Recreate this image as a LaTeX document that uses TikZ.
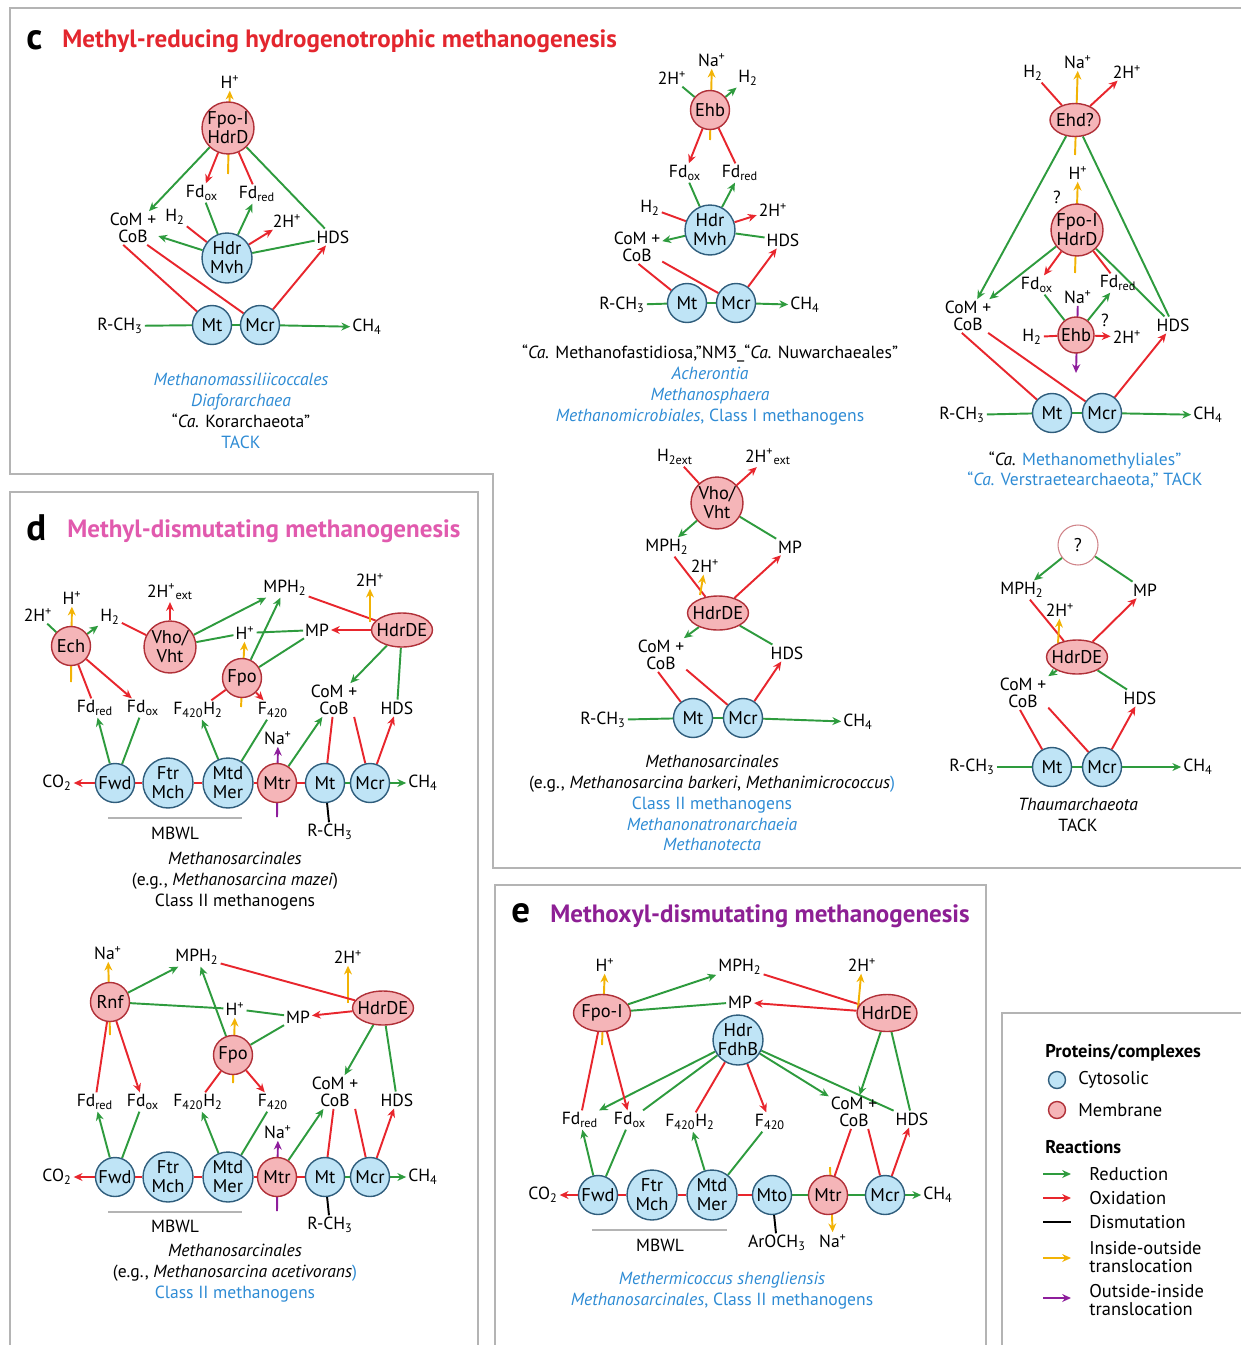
\documentclass[tikz,border=0pt]{standalone}
\usepackage{fontspec}
\setmainfont{PT Sans}
\usetikzlibrary{arrows.meta,shapes.geometric}
\pgfdeclarelayer{bg}
\pgfsetlayers{bg,main}

\definecolor{cytfill}{HTML}{BFE4F6}
\definecolor{cytline}{HTML}{2F5D7C}
\definecolor{memfill}{HTML}{F5B5B8}
\definecolor{memline}{HTML}{B03038}
\definecolor{grn}{HTML}{2E9B3E}
\definecolor{rd}{HTML}{E8262D}
\definecolor{yel}{HTML}{F2B305}
\definecolor{pur}{HTML}{8E1E9C}
\definecolor{txtblue}{HTML}{2E8BD4}
\definecolor{titlec}{HTML}{E3262E}
\definecolor{titled}{HTML}{E15AAE}
\definecolor{titlee}{HTML}{8D1F94}
\definecolor{framegray}{HTML}{B4B4B4}

\newcommand{\zw}[1]{\makebox[0pt]{#1}}
\newcommand{\Hp}{H\textsuperscript{+}}
\newcommand{\twoHp}{2H\textsuperscript{+}}
\newcommand{\Nap}{Na\textsuperscript{+}}
\newcommand{\Htwo}{H\textsubscript{2}}
\newcommand{\Fdox}{Fd\textsubscript{ox}}
\newcommand{\Fdred}{Fd\textsubscript{red}}
\newcommand{\MPHtwo}{MPH\textsubscript{2}}
\newcommand{\RCH}{R-CH\textsubscript{3}}
\newcommand{\CHf}{CH\textsubscript{4}}
\newcommand{\COt}{CO\textsubscript{2}}
\newcommand{\Ffz}{F\textsubscript{420}}
\newcommand{\FfzH}{F\textsubscript{420}H\textsubscript{2}}
\newcommand{\blu}[1]{\textcolor{txtblue}{#1}}

\tikzset{
  cyt/.style={circle, draw=cytline, fill=cytfill, line width=0.8pt, inner sep=0pt,
    minimum size=0.78cm, align=center, font=\fontsize{10.5}{10.8}\selectfont},
  cytbig/.style={cyt, minimum size=1cm},
  mem/.style={cyt, draw=memline, fill=memfill},
  membig/.style={mem, minimum size=1.04cm},
  memov/.style={mem, ellipse, minimum width=1.22cm, minimum height=0.68cm},
  lbl/.style={inner sep=1pt, align=center, font=\fontsize{10}{9.6}\selectfont},
  taxa/.style={align=center, font=\fontsize{10}{11.9}\selectfont},
  ttl/.style={anchor=west, inner sep=0pt, font=\fontsize{14.25}{15}\selectfont\bfseries},
  leg/.style={anchor=west, inner sep=0pt, align=left, font=\fontsize{10.5}{10.5}\selectfont},
  redn/.style={draw=grn, line width=1.1pt},
  oxid/.style={draw=rd, line width=1.1pt},
  dism/.style={draw=black, line width=1.1pt},
  inout/.style={draw=yel, line width=1.1pt},
  outin/.style={draw=pur, line width=1.1pt},
  frame/.style={draw=framegray, line width=1pt},
}

\begin{document}
\begin{tikzpicture}[x=0.02cm, y=-0.02cm, >={Stealth[length=5pt,width=4.5pt]}]
  \useasboundingbox (0,0) rectangle (1241,1345);
  % Frames
  \draw[frame] (1241,8) -- (10,8) -- (10,474) -- (493,474) -- (493,868) -- (1241,868);
  \draw[frame] (10,1345) -- (10,492) -- (478,492) -- (478,1345);
  \draw[frame] (495,1345) -- (495,885) -- (986,885) -- (986,1345);
  \draw[frame] (1002,1345) -- (1002,1013) -- (1241,1013);

  % Titles
  \node (tc) [ttl, font=\fontsize{21}{21}\selectfont\bfseries] at (26,40) {c};
  \node (tctext) [ttl, text=titlec] at (62,41) {Methyl-reducing hydrogenotrophic methanogenesis};
  \node (td) [ttl, font=\fontsize{21}{21}\selectfont\bfseries] at (26,528) {d};
  \node (tdtext) [ttl, text=titled] at (67,531) {Methyl-dismutating methanogenesis};
  \node (te) [ttl, font=\fontsize{21}{21}\selectfont\bfseries] at (511,913) {e};
  \node (tetext) [ttl, text=titlee] at (550,916) {Methoxyl-dismutating methanogenesis};

  % ---- Panel c, left ----
  \node (c1fpo) [membig] at (228,128) {\zw{Fpo-I}\\\zw{HdrD}};
  \node (c1hp) [lbl] at (230,82) {\Hp};
  \node (c1fdox) [lbl] at (202,193) {\Fdox};
  \node (c1fdred) [lbl] at (257,194) {\Fdred};
  \node (c1com) [lbl] at (133,228) {CoM +\\CoB};
  \node (c1htwo) [lbl] at (175,217) {\Htwo};
  \node (c1twohp) [lbl] at (287,221) {\twoHp};
  \node (c1hds) [lbl] at (333,237) {HDS};
  \node (c1hdr) [cytbig] at (227,258) {Hdr\\Mvh};
  \node (c1mt) [cyt] at (212,325) {Mt};
  \node (c1mcr) [cyt] at (260,325) {Mcr};
  \node (c1rch) [lbl] at (120,326) {\RCH};
  \node (c1ch) [lbl] at (367,327) {\CHf};
  \coordinate (c1yin) at (228,174);
  \node (c1tax) [taxa] at (241,411) {\blu{\textit{Methanomassiliicoccales}}\\
    \blu{\textit{Diaforarchaea}}\\“\textit{Ca.} Korarchaeota”\\\blu{TACK}};
  \begin{pgfonlayer}{bg}
    \draw[inout,->] (c1yin) -- (c1hp);
    \draw[redn,->] (c1fpo) -- (c1com);
    \draw[oxid,->] (c1fpo) -- (c1fdox);
    \draw[oxid] (c1fdred) -- (c1fpo);
    \draw[redn] (c1hds) -- (c1fpo);
    \draw[oxid] (c1htwo) -- (c1hdr);
    \draw[redn] (c1fdox) -- (c1hdr);
    \draw[redn,->] (c1hdr) -- (c1fdred);
    \draw[oxid,->] (c1hdr) -- (c1twohp);
    \draw[redn,->] (c1hdr) -- (c1com);
    \draw[redn] (c1hds) -- (c1hdr);
    \draw[oxid] (c1com.-120) -- (c1mt);
    \draw[oxid] (c1com.-50) -- (c1mcr);
    \draw[oxid,->] (c1mcr) -- (c1hds);
    \draw[redn] (c1rch) -- (c1mt);
    \draw[redn] (c1mt) -- (c1mcr);
    \draw[redn,->] (c1mcr) -- (c1ch);
  \end{pgfonlayer}

  % ---- Panel c, middle top ----
  \node (c2ehb) [mem] at (710,110) {Ehb};
  \node (c2nap) [lbl] at (712,60) {\Nap};
  \node (c2twohp) [lbl] at (672,78) {\twoHp};
  \node (c2htwo) [lbl] at (748,78) {\Htwo};
  \node (c2fdox) [lbl] at (685,173) {\Fdox};
  \node (c2fdred) [lbl] at (740,173) {\Fdred};
  \node (c2hdr) [cytbig] at (710,230) {Hdr\\Mvh};
  \node (c2htwob) [lbl] at (650,208) {\Htwo};
  \node (c2twohpb) [lbl] at (773,210) {\twoHp};
  \node (c2com) [lbl] at (637,247) {CoM +\\CoB};
  \node (c2hds) [lbl] at (783,240) {HDS};
  \node (c2mt) [cyt] at (687,303) {Mt};
  \node (c2mcr) [cyt] at (736,303) {Mcr};
  \node (c2rch) [lbl] at (622,305) {\RCH};
  \node (c2ch) [lbl] at (805,305) {\CHf};
  \coordinate (c2yin) at (710,140);
  \node (c2tax) [taxa] at (710,385) {“\textit{Ca.} Methanofastidiosa,”NM3\_“\textit{Ca.} Nuwarchaeales”\\
    \blu{\textit{Acherontia}}\\\blu{\textit{Methanosphaera}}\\
    \blu{\textit{Methanomicrobiales}, Class I methanogens}};
  \begin{pgfonlayer}{bg}
    \draw[inout,->] (c2yin) -- (c2nap);
    \draw[redn] (c2twohp) -- (c2ehb);
    \draw[redn,->] (c2ehb) -- (c2htwo);
    \draw[oxid,->] (c2ehb) -- (c2fdox);
    \draw[oxid] (c2fdred) -- (c2ehb);
    \draw[redn] (c2fdox) -- (c2hdr);
    \draw[redn,->] (c2hdr) -- (c2fdred);
    \draw[oxid] (c2htwob) -- (c2hdr);
    \draw[oxid,->] (c2hdr) -- (c2twohpb);
    \draw[redn,->] (c2hdr) -- (c2com);
    \draw[redn] (c2hds) -- (c2hdr);
    \draw[oxid] (c2com.-85) -- (c2mt);
    \draw[oxid] (c2com.-30) -- (c2mcr);
    \draw[oxid,->] (c2mcr) -- (c2hds);
    \draw[redn] (c2rch) -- (c2mt);
    \draw[redn] (c2mt) -- (c2mcr);
    \draw[redn,->] (c2mcr) -- (c2ch);
  \end{pgfonlayer}

  % ---- Panel c, right top ----
  \node (c3ehd) [memov, minimum width=1cm, minimum height=0.66cm] at (1075,120) {\zw{Ehd?}};
  \node (c3nap) [lbl] at (1078,62) {\Nap};
  \node (c3htwo) [lbl] at (1033,73) {\Htwo};
  \node (c3twohp) [lbl] at (1127,72) {\twoHp};
  \node (c3hp) [lbl] at (1078,173) {\Hp};
  \node (c3qa) [lbl] at (1057,197) {?};
  \node (c3fpo) [membig] at (1077,230) {\zw{Fpo-I}\\\zw{HdrD}};
  \node (c3fdox) [lbl] at (1037,285) {\Fdox};
  \node (c3fdred) [lbl] at (1118,283) {\Fdred};
  \node (c3nap2) [lbl] at (1078,297) {\Nap};
  \node (c3qb) [lbl] at (1105,320) {?};
  \node (c3ehb) [mem, minimum size=0.72cm] at (1076,335) {\zw{Ehb}};
  \node (c3htwob) [lbl] at (1032,337) {\Htwo};
  \node (c3twohpb) [lbl] at (1127,337) {\twoHp};
  \node (c3com) [lbl] at (968,316) {CoM +\\CoB};
  \node (c3hds) [lbl] at (1173,325) {HDS};
  \node (c3mt) [cyt] at (1052,413) {Mt};
  \node (c3mcr) [cyt] at (1102,413) {Mcr};
  \node (c3rch) [lbl] at (962,415) {\RCH};
  \node (c3ch) [lbl] at (1208,415) {\CHf};
  \coordinate (c3ya) at (1075,155);
  \coordinate (c3yb) at (1075,273);
  \coordinate (c3pend) at (1076,373);
  \node (c3tax) [taxa] at (1085,470) {“\textit{Ca.} \blu{Methanomethyliales”}\\
    \blu{“\textit{Ca.} Verstraetearchaeota,” TACK}};
  \begin{pgfonlayer}{bg}
    \draw[inout,->] (c3ya) -- (c3nap);
    \draw[inout,->] (c3yb) -- (c3hp);
    \draw[oxid] (c3htwo) -- (c3ehd);
    \draw[oxid,->] (c3ehd) -- (c3twohp);
    \draw[redn,->] (c3ehd) -- (c3com);
    \draw[redn] (c3hds) -- (c3ehd);
    \draw[redn,->] (c3fpo) -- (c3com);
    \draw[oxid,->] (c3fpo) -- (c3fdox);
    \draw[oxid] (c3fdred) -- (c3fpo);
    \draw[redn] (c3hds) -- (c3fpo);
    \draw[outin,->] (c3nap2) -- (c3pend);
    \draw[redn] (c3fdox) -- (c3ehb);
    \draw[redn,->] (c3ehb) -- (c3fdred);
    \draw[oxid] (c3htwob) -- (c3ehb);
    \draw[oxid,->] (c3ehb) -- (c3twohpb);
    \draw[oxid] (c3com.-110) -- (c3mt);
    \draw[oxid] (c3com.-40) -- (c3mcr);
    \draw[oxid,->] (c3mcr) -- (c3hds);
    \draw[redn] (c3rch) -- (c3mt);
    \draw[redn] (c3mt) -- (c3mcr);
    \draw[redn,->] (c3mcr) -- (c3ch);
  \end{pgfonlayer}

  % ---- Panel c, middle bottom ----
  \node (c4vho) [membig] at (717,503) {\zw{Vho/}\\\zw{Vht}};
  \node (c4htwo) [lbl] at (675,457) {H\textsubscript{2ext}};
  \node (c4twohp) [lbl] at (768,457) {2H\textsuperscript{+}\textsubscript{ext}};
  \node (c4mph) [lbl] at (667,547) {\MPHtwo};
  \node (c4mp) [lbl] at (790,547) {MP};
  \node (c4twohpb) [lbl] at (705,566) {\twoHp};
  \node (c4hdr) [memov] at (718,613) {\zw{HdrDE}};
  \node (c4com) [lbl] at (661,655) {CoM +\\CoB};
  \node (c4hds) [lbl] at (787,653) {HDS};
  \node (c4mt) [cyt] at (693,718) {Mt};
  \node (c4mcr) [cyt] at (743,718) {Mcr};
  \node (c4rch) [lbl] at (603,720) {\RCH};
  \node (c4ch) [lbl] at (858,722) {\CHf};
  \coordinate (c4yin) at (700,595);
  \node (c4tax) [taxa] at (712,803) {\textit{Methanosarcinales}\\
    (e.g., \textit{Methanosarcina barkeri}, \textit{Methanimicrococcus}\blu{)}\\
    \blu{Class II methanogens}\\\blu{\textit{Methanonatronarchaeia}}\\\blu{\textit{Methanotecta}}};
  \begin{pgfonlayer}{bg}
    \draw[oxid] (c4htwo) -- (c4vho);
    \draw[oxid,->] (c4vho) -- (c4twohp);
    \draw[redn,->] (c4vho) -- (c4mph);
    \draw[redn] (c4mp) -- (c4vho);
    \draw[oxid] (c4mph) -- (c4hdr);
    \draw[oxid,->] (c4hdr) -- (c4mp);
    \draw[inout,->] (c4yin) -- (c4twohpb);
    \draw[redn,->] (c4hdr) -- (c4com);
    \draw[redn] (c4hds) -- (c4hdr);
    \draw[oxid] (c4com.-100) -- (c4mt);
    \draw[oxid] (c4com.-30) -- (c4mcr);
    \draw[oxid,->] (c4mcr) -- (c4hds);
    \draw[redn] (c4rch) -- (c4mt);
    \draw[redn] (c4mt) -- (c4mcr);
    \draw[redn,->] (c4mcr) -- (c4ch);
  \end{pgfonlayer}

  % ---- Panel c, right bottom ----
  \node (c5q) [circle, draw=memline!60, fill=white, line width=0.6pt, minimum size=0.8cm,
    font=\fontsize{10.5}{10.5}\selectfont] at (1078,545) {?};
  \node (c5mph) [lbl] at (1022,590) {\MPHtwo};
  \node (c5mp) [lbl] at (1145,590) {MP};
  \node (c5twohp) [lbl] at (1060,610) {\twoHp};
  \node (c5hdr) [memov] at (1077,657) {\zw{HdrDE}};
  \node (c5com) [lbl] at (1023,693) {CoM +\\CoB};
  \node (c5hds) [lbl] at (1140,698) {HDS};
  \node (c5mt) [cyt] at (1052,767) {Mt};
  \node (c5mcr) [cyt] at (1102,767) {Mcr};
  \node (c5rch) [lbl] at (972,767) {\RCH};
  \node (c5ch) [lbl] at (1198,767) {\CHf};
  \coordinate (c5yin) at (1058,643);
  \node (c5tax) [taxa] at (1078,815) {\textit{Thaumarchaeota}\\TACK};
  \begin{pgfonlayer}{bg}
    \draw[redn,->] (c5q) -- (c5mph);
    \draw[redn] (c5mp) -- (c5q);
    \draw[oxid] (c5mph) -- (c5hdr);
    \draw[oxid,->] (c5hdr) -- (c5mp);
    \draw[inout,->] (c5yin) -- (c5twohp);
    \draw[redn,->] (c5hdr) -- (c5com);
    \draw[redn] (c5hds) -- (c5hdr);
    \draw[oxid] (c5com.-100) -- (c5mt);
    \draw[oxid] (c5com.-30) -- (c5mcr);
    \draw[oxid,->] (c5mcr) -- (c5hds);
    \draw[redn] (c5rch) -- (c5mt);
    \draw[redn] (c5mt) -- (c5mcr);
    \draw[redn,->] (c5mcr) -- (c5ch);
  \end{pgfonlayer}

  % ---- Panel d, upper ----
  \node (d1ech) [mem] at (71,646) {Ech};
  \node (d1twohp) [lbl] at (38,615) {\twoHp};
  \node (d1hp) [lbl] at (72,598) {\Hp};
  \node (d1htwo) [lbl] at (110,617) {\Htwo};
  \node (d1fdred) [lbl] at (95,708) {\Fdred};
  \node (d1fdox) [lbl] at (143,708) {\Fdox};
  \node (d1vho) [membig] at (170,647) {\zw{Vho/}\\\zw{Vht}};
  \node (d1twohpx) [lbl] at (170,592) {2H\textsuperscript{+}\textsubscript{ext}};
  \node (d1mph) [lbl] at (285,588) {\MPHtwo};
  \node (d1twohpb) [lbl] at (370,580) {\twoHp};
  \node (d1hdr) [memov] at (402,630) {\zw{HdrDE}};
  \node (d1mp) [lbl] at (317,630) {MP};
  \node (d1hpb) [lbl] at (245,633) {\Hp};
  \node (d1fpo) [mem] at (242,678) {Fpo};
  \node (d1ffh) [lbl] at (198,710) {\FfzH};
  \node (d1ff) [lbl] at (273,710) {\Ffz};
  \node (d1com) [lbl] at (334,700) {CoM +\\CoB};
  \node (d1hds) [lbl] at (397,708) {HDS};
  \node (d1co) [lbl] at (57,783) {\COt};
  \node (d1fwd) [cyt] at (115,783) {\zw{Fwd}};
  \node (d1ftr) [cytbig] at (168,783) {\zw{Ftr}\\\zw{Mch}};
  \node (d1mtd) [cytbig] at (228,783) {\zw{Mtd}\\\zw{Mer}};
  \node (d1mtr) [mem] at (277,783) {Mtr};
  \node (d1mt) [cyt] at (325,783) {Mt};
  \node (d1mcr) [cyt] at (370,783) {Mcr};
  \node (d1ch) [lbl] at (423,783) {\CHf};
  \node (d1nap) [lbl] at (278,738) {\Nap};
  \node (d1rch) [lbl] at (330,832) {\RCH};
  \node (d1mbwl) [lbl] at (175,833) {MBWL};
  \coordinate (d1ya) at (71,682);
  \coordinate (d1yb) at (370,622);
  \coordinate (d1yc) at (241,707);
  \coordinate (d1pa) at (277,817);
  \node (d1tax) [taxa] at (235,881) {\textit{Methanosarcinales}\\
    (e.g., \textit{Methanosarcina mazei})\\Class II methanogens};
  \draw[framegray, line width=0.8pt] (108,818) -- (242,818);
  \begin{pgfonlayer}{bg}
    \draw[inout,->] (d1ya) -- (d1hp);
    \draw[redn] (d1twohp) -- (d1ech);
    \draw[redn,->] (d1ech) -- (d1htwo);
    \draw[oxid] (d1fdred) -- (d1ech);
    \draw[oxid,->] (d1ech) -- (d1fdox);
    \draw[oxid,->] (d1vho) -- (d1twohpx);
    \draw[oxid] (d1htwo) -- (d1vho);
    \draw[redn,->] (d1vho) -- (d1mph);
    \draw[redn] (d1vho) -- (d1hpb);
    \draw[redn] (d1hpb) -- (d1mp);
    \draw[oxid] (d1mph) -- (d1hdr);
    \draw[oxid,->] (d1hdr) -- (d1mp);
    \draw[inout,->] (d1yb) -- (d1twohpb);
    \draw[inout,->] (d1yc) -- (d1hpb);
    \draw[redn,->] (d1fpo) -- (d1mph);
    \draw[redn] (d1mp) -- (d1fpo);
    \draw[oxid] (d1ffh) -- (d1fpo);
    \draw[oxid,->] (d1fpo) -- (d1ff);
    \draw[redn,->] (d1hdr) -- (d1com);
    \draw[redn] (d1hds) -- (d1hdr);
    \draw[oxid,->] (d1fwd) -- (d1co);
    \draw[oxid] (d1fwd) -- (d1ftr);
    \draw[oxid] (d1ftr) -- (d1mtd);
    \draw[oxid] (d1mtd) -- (d1mtr);
    \draw[oxid] (d1mtr) -- (d1mt);
    \draw[redn] (d1mt) -- (d1mcr);
    \draw[redn,->] (d1mcr) -- (d1ch);
    \draw[outin,->] (d1pa) -- (d1nap);
    \draw[redn,->] (d1fwd) -- (d1fdred);
    \draw[redn] (d1fdox) -- (d1fwd);
    \draw[redn,->] (d1mtd) -- (d1ffh);
    \draw[redn] (d1ff) -- (d1mtd);
    \draw[redn,->] (d1mtr) -- (d1com);
    \draw[oxid] (d1com.-95) -- (d1mt);
    \draw[oxid] (d1com.-40) -- (d1mcr);
    \draw[oxid,->] (d1mcr) -- (d1hds);
    \draw[dism] (d1mt) -- (d1rch);
  \end{pgfonlayer}

  % ---- Panel d, lower ----
  \node (d2rnf) [mem] at (110,1002) {Rnf};
  \node (d2nap) [lbl] at (108,953) {\Nap};
  \node (d2mph) [lbl] at (197,957) {\MPHtwo};
  \node (d2twohp) [lbl] at (348,957) {\twoHp};
  \node (d2hp) [lbl] at (235,1009) {\Hp};
  \node (d2mp) [lbl] at (298,1017) {MP};
  \node (d2hdr) [memov] at (383,1008) {\zw{HdrDE}};
  \node (d2fpo) [mem] at (233,1055) {Fpo};
  \node (d2fdred) [lbl] at (95,1102) {\Fdred};
  \node (d2fdox) [lbl] at (143,1102) {\Fdox};
  \node (d2ffh) [lbl] at (198,1102) {\FfzH};
  \node (d2ff) [lbl] at (273,1102) {\Ffz};
  \node (d2com) [lbl] at (335,1092) {CoM +\\CoB};
  \node (d2hds) [lbl] at (397,1100) {HDS};
  \node (d2co) [lbl] at (57,1177) {\COt};
  \node (d2fwd) [cyt] at (115,1177) {\zw{Fwd}};
  \node (d2ftr) [cytbig] at (168,1177) {\zw{Ftr}\\\zw{Mch}};
  \node (d2mtd) [cytbig] at (228,1177) {\zw{Mtd}\\\zw{Mer}};
  \node (d2mtr) [mem] at (277,1177) {Mtr};
  \node (d2mt) [cyt] at (325,1177) {Mt};
  \node (d2mcr) [cyt] at (370,1177) {Mcr};
  \node (d2ch) [lbl] at (423,1177) {\CHf};
  \node (d2nap2) [lbl] at (278,1132) {\Nap};
  \node (d2rch) [lbl] at (330,1225) {\RCH};
  \node (d2mbwl) [lbl] at (175,1226) {MBWL};
  \coordinate (d2ya) at (110,1035);
  \coordinate (d2yb) at (233,1083);
  \coordinate (d2yc) at (348,1003);
  \coordinate (d2pa) at (277,1211);
  \node (d2tax) [taxa] at (235,1273) {\textit{Methanosarcinales}\\
    (e.g., \textit{Methanosarcina acetivorans}\blu{)}\\\blu{Class II methanogens}};
  \draw[framegray, line width=0.8pt] (108,1212) -- (242,1212);
  \begin{pgfonlayer}{bg}
    \draw[inout,->] (d2ya) -- (d2nap);
    \draw[redn,->] (d2rnf) -- (d2mph);
    \draw[redn] (d2rnf) -- (d2hp);
    \draw[redn] (d2hp) -- (d2mp);
    \draw[inout,->] (d2yb) -- (d2hp);
    \draw[inout,->] (d2yc) -- (d2twohp);
    \draw[oxid] (d2mph) -- (d2hdr);
    \draw[oxid,->] (d2hdr) -- (d2mp);
    \draw[redn,->] (d2fpo) -- (d2mph);
    \draw[redn] (d2mp) -- (d2fpo);
    \draw[oxid] (d2ffh) -- (d2fpo);
    \draw[oxid,->] (d2fpo) -- (d2ff);
    \draw[oxid] (d2fdred) -- (d2rnf);
    \draw[oxid,->] (d2rnf) -- (d2fdox);
    \draw[redn,->] (d2hdr) -- (d2com);
    \draw[redn] (d2hds) -- (d2hdr);
    \draw[oxid,->] (d2fwd) -- (d2co);
    \draw[oxid] (d2fwd) -- (d2ftr);
    \draw[oxid] (d2ftr) -- (d2mtd);
    \draw[oxid] (d2mtd) -- (d2mtr);
    \draw[oxid] (d2mtr) -- (d2mt);
    \draw[redn] (d2mt) -- (d2mcr);
    \draw[redn,->] (d2mcr) -- (d2ch);
    \draw[outin,->] (d2pa) -- (d2nap2);
    \draw[redn,->] (d2fwd) -- (d2fdred);
    \draw[redn] (d2fdox) -- (d2fwd);
    \draw[redn,->] (d2mtd) -- (d2ffh);
    \draw[redn] (d2ff) -- (d2mtd);
    \draw[redn,->] (d2mtr) -- (d2com);
    \draw[oxid] (d2com.-95) -- (d2mt);
    \draw[oxid] (d2com.-40) -- (d2mcr);
    \draw[oxid,->] (d2mcr) -- (d2hds);
    \draw[dism] (d2mt) -- (d2rch);
  \end{pgfonlayer}

  % ---- Panel e ----
  \node (efpo) [memov, minimum width=1.14cm, minimum height=0.74cm] at (602,1013) {\zw{Fpo-I}};
  \node (ehp) [lbl] at (605,965) {\Hp};
  \node (emph) [lbl] at (740,967) {\MPHtwo};
  \node (etwohp) [lbl] at (862,965) {\twoHp};
  \node (emp) [lbl] at (740,1002) {MP};
  \node (ehdr) [memov, minimum width=1.2cm, minimum height=0.74cm] at (887,1013) {\zw{HdrDE}};
  \node (ehfd) [cytbig] at (738,1040) {\zw{Hdr}\\\zw{FdhB}};
  \node (efdred) [lbl] at (580,1120) {\Fdred};
  \node (efdox) [lbl] at (630,1120) {\Fdox};
  \node (effh) [lbl] at (690,1122) {\FfzH};
  \node (eff) [lbl] at (770,1122) {\Ffz};
  \node (ecom) [lbl] at (854,1112) {CoM +\\CoB};
  \node (ehds) [lbl] at (912,1119) {HDS};
  \node (eco) [lbl] at (543,1195) {\COt};
  \node (efwd) [cyt] at (598,1195) {\zw{Fwd}};
  \node (eftr) [cytbig] at (652,1195) {\zw{Ftr}\\\zw{Mch}};
  \node (emtd) [cytbig] at (712,1195) {\zw{Mtd}\\\zw{Mer}};
  \node (emto) [cyt] at (772,1195) {Mto};
  \node (emtr) [mem] at (828,1195) {Mtr};
  \node (emcr) [cyt] at (885,1195) {Mcr};
  \node (ech) [lbl] at (938,1195) {\CHf};
  \node (earo) [lbl] at (777,1243) {ArOCH\textsubscript{3}};
  \node (enap) [lbl] at (833,1241) {\Nap};
  \node (embwl) [lbl] at (660,1245) {MBWL};
  \coordinate (eya) at (602,1045);
  \coordinate (eyb) at (858,1008);
  \coordinate (eyc) at (830,1167);
  \node (etax) [taxa] at (722,1291) {\blu{\textit{Methermicoccus shengliensis}}\\
    \blu{\textit{Methanosarcinales}, Class II methanogens}};
  \draw[framegray, line width=0.8pt] (592,1230) -- (727,1230);
  \begin{pgfonlayer}{bg}
    \draw[inout,->] (eya) -- (ehp);
    \draw[redn,->] (efpo) -- (emph);
    \draw[redn] (emp) -- (efpo);
    \draw[oxid] (emph) -- (ehdr);
    \draw[oxid,->] (ehdr) -- (emp);
    \draw[inout,->] (eyb) -- (etwohp);
    \draw[redn,->] (ehfd) -- (efdred);
    \draw[redn] (efdox) -- (ehfd);
    \draw[oxid] (effh) -- (ehfd);
    \draw[oxid,->] (ehfd) -- (eff);
    \draw[redn,->] (ehfd) -- (ecom);
    \draw[redn] (ehds) -- (ehfd);
    \draw[oxid] (efdred) -- (efpo);
    \draw[oxid,->] (efpo) -- (efdox);
    \draw[redn,->] (ehdr) -- (ecom);
    \draw[redn] (ehds) -- (ehdr);
    \draw[oxid,->] (efwd) -- (eco);
    \draw[oxid] (efwd) -- (eftr);
    \draw[oxid] (eftr) -- (emtd);
    \draw[oxid] (emtd) -- (emto);
    \draw[redn] (emto) -- (emtr);
    \draw[redn] (emtr) -- (emcr);
    \draw[redn,->] (emcr) -- (ech);
    \draw[dism] (emto) -- (earo);
    \draw[inout,->] (eyc) -- (enap);
    \draw[redn,->] (efwd) -- (efdred);
    \draw[redn] (efdox) -- (efwd);
    \draw[redn,->] (emtd) -- (effh);
    \draw[redn] (eff) -- (emtd);
    \draw[oxid] (ecom.-100) -- (emtr);
    \draw[oxid] (ecom.-50) -- (emcr);
    \draw[oxid,->] (emcr) -- (ehds);
  \end{pgfonlayer}

  % ---- Legend ----
  \node (lgprot) [leg, font=\fontsize{10.5}{10.5}\selectfont\bfseries] at (1045,1053) {Proteins/complexes};
  \node (lgcyt) [cyt, minimum size=0.34cm] at (1057,1080) {};
  \node (lgcyttxt) [leg] at (1078,1080) {Cytosolic};
  \node (lgmem) [mem, minimum size=0.34cm] at (1057,1110) {};
  \node (lgmemtxt) [leg] at (1078,1110) {Membrane};
  \node (lgreac) [leg, font=\fontsize{10.5}{10.5}\selectfont\bfseries] at (1045,1147) {Reactions};
  \node (lgred) [leg] at (1089,1174) {Reduction};
  \node (lgox) [leg] at (1089,1198) {Oxidation};
  \node (lgdis) [leg] at (1089,1222) {Dismutation};
  \node (lgio) [leg] at (1089,1257) {Inside-outside\\translocation};
  \node (lgoi) [leg] at (1089,1300) {Outside-inside\\translocation};
  \coordinate (lga1) at (1043,1174); \coordinate (lgb1) at (1071,1174);
  \coordinate (lga2) at (1043,1198); \coordinate (lgb2) at (1071,1198);
  \coordinate (lga3) at (1043,1222); \coordinate (lgb3) at (1071,1222);
  \coordinate (lga4) at (1043,1258); \coordinate (lgb4) at (1071,1258);
  \coordinate (lga5) at (1043,1298); \coordinate (lgb5) at (1071,1298);
  \draw[redn,->] (lga1) -- (lgb1);
  \draw[oxid,->] (lga2) -- (lgb2);
  \draw[dism] (lga3) -- (lgb3);
  \draw[inout,->] (lga4) -- (lgb4);
  \draw[outin,->] (lga5) -- (lgb5);
\end{tikzpicture}
\end{document}
